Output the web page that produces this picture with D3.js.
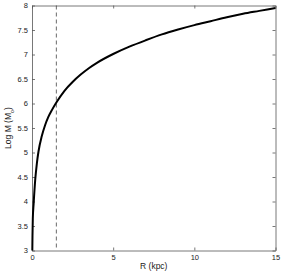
<!DOCTYPE html>
<html>
<head>
<meta charset="utf-8">
<script src="https://cdn.jsdelivr.net/npm/d3@7"></script>
<style>
  html, body { margin: 0; padding: 0; background: #fff; }
  svg { display: block; }
  text { font-family: "Liberation Sans", Arial, sans-serif; }
</style>
</head>
<body>
<svg id="chart" width="282" height="273"></svg>
<script>
// radius in kpc and log enclosed mass
const radius = [0.02, 0.03, 0.05, 0.1, 0.2, 0.3, 0.4, 0.6, 0.8, 1.0, 1.25, 1.5, 2, 2.5, 3, 3.5, 4, 5, 6, 7, 8, 9, 10, 11, 12, 13, 14, 15];
const logMass = [3.0, 3.3, 3.65, 3.95, 4.45, 4.78, 5.02, 5.33, 5.55, 5.72, 5.88, 6.02, 6.26, 6.44, 6.59, 6.72, 6.83, 7.01, 7.16, 7.29, 7.41, 7.51, 7.6, 7.68, 7.76, 7.83, 7.89, 7.95];
const xTicks = [0, 5, 10, 15];
const yTicks = [3, 3.5, 4, 4.5, 5, 5.5, 6, 6.5, 7, 7.5, 8];
const markerR = 1.5;

let svg = d3.select('#chart');
let margin = {left: 32, right: 6.5, top: 5.5, bottom: 22.5};
let w = 282 - margin.left - margin.right;
let h = 273 - margin.top - margin.bottom;

let x = d3.scaleLinear().domain([0, 15]).range([0, w]);
let y = d3.scaleLinear().domain([3, 8]).range([h, 0]);

let g = svg.append('g').attr('transform', `translate(${margin.left},${margin.top})`);

//matlab style ticks: pointing inward, on all four sides
let axisColor = '#555';
let fmt = d => String(d);
let styleAxis = sel => {
    sel.selectAll('path').attr('stroke', axisColor).attr('stroke-width', 0.8);
    sel.selectAll('line').attr('stroke', axisColor).attr('stroke-width', 0.8);
    sel.selectAll('text').attr('fill', '#222').style('font-size', '7.5px');
};

g.append('g').attr('transform', `translate(0,${h})`)
    .call(d3.axisBottom(x).tickValues(xTicks).tickFormat(fmt).tickSizeInner(-3).tickSizeOuter(0).tickPadding(4))
    .call(styleAxis);
g.append('g')
    .call(d3.axisTop(x).tickValues(xTicks).tickSizeInner(-3).tickSizeOuter(0).tickFormat(''))
    .call(styleAxis);
g.append('g')
    .call(d3.axisLeft(y).tickValues(yTicks).tickFormat(fmt).tickSizeInner(-3).tickSizeOuter(0).tickPadding(4))
    .call(styleAxis);
g.append('g').attr('transform', `translate(${w},0)`)
    .call(d3.axisRight(y).tickValues(yTicks).tickSizeInner(-3).tickSizeOuter(0).tickFormat(''))
    .call(styleAxis);

g.append('line')
    .attr('x1', x(markerR)).attr('x2', x(markerR))
    .attr('y1', 0).attr('y2', h)
    .attr('stroke', '#444').attr('stroke-width', 0.8)
    .attr('stroke-dasharray', '4,3');

let points = radius.map((r, i) => [r, logMass[i]]);

let line = d3.line()
    .x(d => x(d[0]))
    .y(d => y(d[1]))
    .curve(d3.curveMonotoneX);

g.append('path')
    .datum(points)
    .attr('d', line)
    .attr('fill', 'none')
    .attr('stroke', '#000')
    .attr('stroke-width', 2);

svg.append('text')
    .attr('x', margin.left + w / 2).attr('y', 269)
    .attr('text-anchor', 'middle')
    .attr('fill', '#222')
    .style('font-size', '8.5px')
    .text('R (kpc)');

let yLabel = svg.append('text')
    .attr('transform', `translate(11,${margin.top + h / 2}) rotate(-90)`)
    .attr('text-anchor', 'middle')
    .attr('fill', '#222')
    .style('font-size', '8.5px');
yLabel.append('tspan').text('Log M (M');
yLabel.append('tspan').attr('baseline-shift', 'sub').style('font-size', '5.5px').text('o');
yLabel.append('tspan').text(')');
</script>
</body>
</html>
